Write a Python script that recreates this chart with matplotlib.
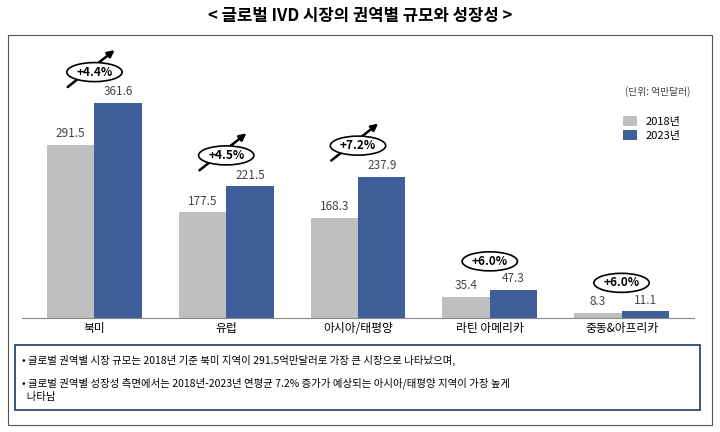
import matplotlib
matplotlib.use("Agg")
import matplotlib.pyplot as plt
import numpy as np
from matplotlib.patches import Rectangle, Ellipse

plt.rcParams["font.family"] = ["Noto Sans CJK KR", "Noto Sans CJK JP", "Noto Sans CJK SC", "DejaVu Sans"]

categories = ["북미", "유럽", "아시아/태평양", "라틴 아메리카", "중동&아프리카"]
v2018 = [291.5, 177.5, 168.3, 35.4, 8.3]
v2023 = [361.6, 221.5, 237.9, 47.3, 11.1]
growth = ["+4.4%", "+4.5%", "+7.2%", "+6.0%", "+6.0%"]
has_arrow = [True, True, True, False, False]
notes = ["• 글로벌 권역별 시장 규모는 2018년 기준 북미 지역이 291.5억만달러로 가장 큰 시장으로 나타났으며,",
         "• 글로벌 권역별 성장성 측면에서는 2018년-2023년 연평균 7.2% 증가가 예상되는 아시아/태평양 지역이 가장 높게\n  나타남"]

W, H = 720, 432
fig = plt.figure(figsize=(7.2, 4.32), dpi=100)
fig.text(0.5, 1 - 16 / H, "< 글로벌 IVD 시장의 권역별 규모와 성장성 >", ha="center", va="center",
         fontsize=12, fontweight="bold")
fig.patches.append(Rectangle((8 / W, 1 - 425 / H), 704 / W, 390 / H, transform=fig.transFigure,
                             fill=False, ec="#555555", lw=0.8))

ax = fig.add_axes([22 / W, 1 - 318 / H, 672 / W, 283 / H])
x = np.arange(len(categories))
bw = 0.36
c1, c2 = "#BFBFBF", "#3F5E9A"
ax.bar(x - bw / 2, v2018, bw, color=c1, label="2018년")
ax.bar(x + bw / 2, v2023, bw, color=c2, label="2023년")
for i in x:
    ax.text(i - bw / 2, v2018[i] + 8, f"{v2018[i]:.1f}", ha="center", va="bottom", fontsize=8.5, color="#444")
    ax.text(i + bw / 2, v2023[i] + 8, f"{v2023[i]:.1f}", ha="center", va="bottom", fontsize=8.5, color="#444")
    top = max(v2018[i], v2023[i])
    ey = top + 52 if i < 3 else top + 48
    if has_arrow[i]:
        ax.annotate("", xy=(i + 0.17, ey + 40), xytext=(i - 0.22, ey - 28),
                    arrowprops=dict(arrowstyle="-|>", color="black", lw=1.8, mutation_scale=10), zorder=3)
    ax.add_patch(Ellipse((i, ey), 0.42, 32, fc="white", ec="black", lw=1.2, zorder=4))
    ax.text(i, ey, growth[i], ha="center", va="center", fontsize=8.5, fontweight="bold", zorder=5)

ax.set_xlim(-0.55, 4.55)
ax.set_ylim(0, 476)
ax.set_xticks(x)
ax.set_xticklabels(categories, fontsize=8.5)
ax.tick_params(axis="x", length=0, pad=3)
ax.set_yticks([])
for s in ["top", "left", "right"]:
    ax.spines[s].set_visible(False)
ax.spines["bottom"].set_color("#888")
ax.legend(loc="upper right", bbox_to_anchor=(0.995, 0.75), frameon=False, fontsize=8,
          handlelength=1.2, handleheight=1.0, labelspacing=0.3)
ax.text(0.995, 0.80, "(단위: 억만달러)", transform=ax.transAxes, ha="right", va="center", fontsize=7, color="#444")

fig.patches.append(Rectangle((15 / W, 1 - 410 / H), 685 / W, 65 / H, transform=fig.transFigure,
                             fill=False, ec="#1F3A6B", lw=1.2))
fig.text(22 / W, 1 - 360 / H, notes[0], fontsize=7.5, va="center")
fig.text(22 / W, 1 - 390 / H, notes[1], fontsize=7.5, va="center", linespacing=1.4)

fig.savefig("out.png", dpi=100)
